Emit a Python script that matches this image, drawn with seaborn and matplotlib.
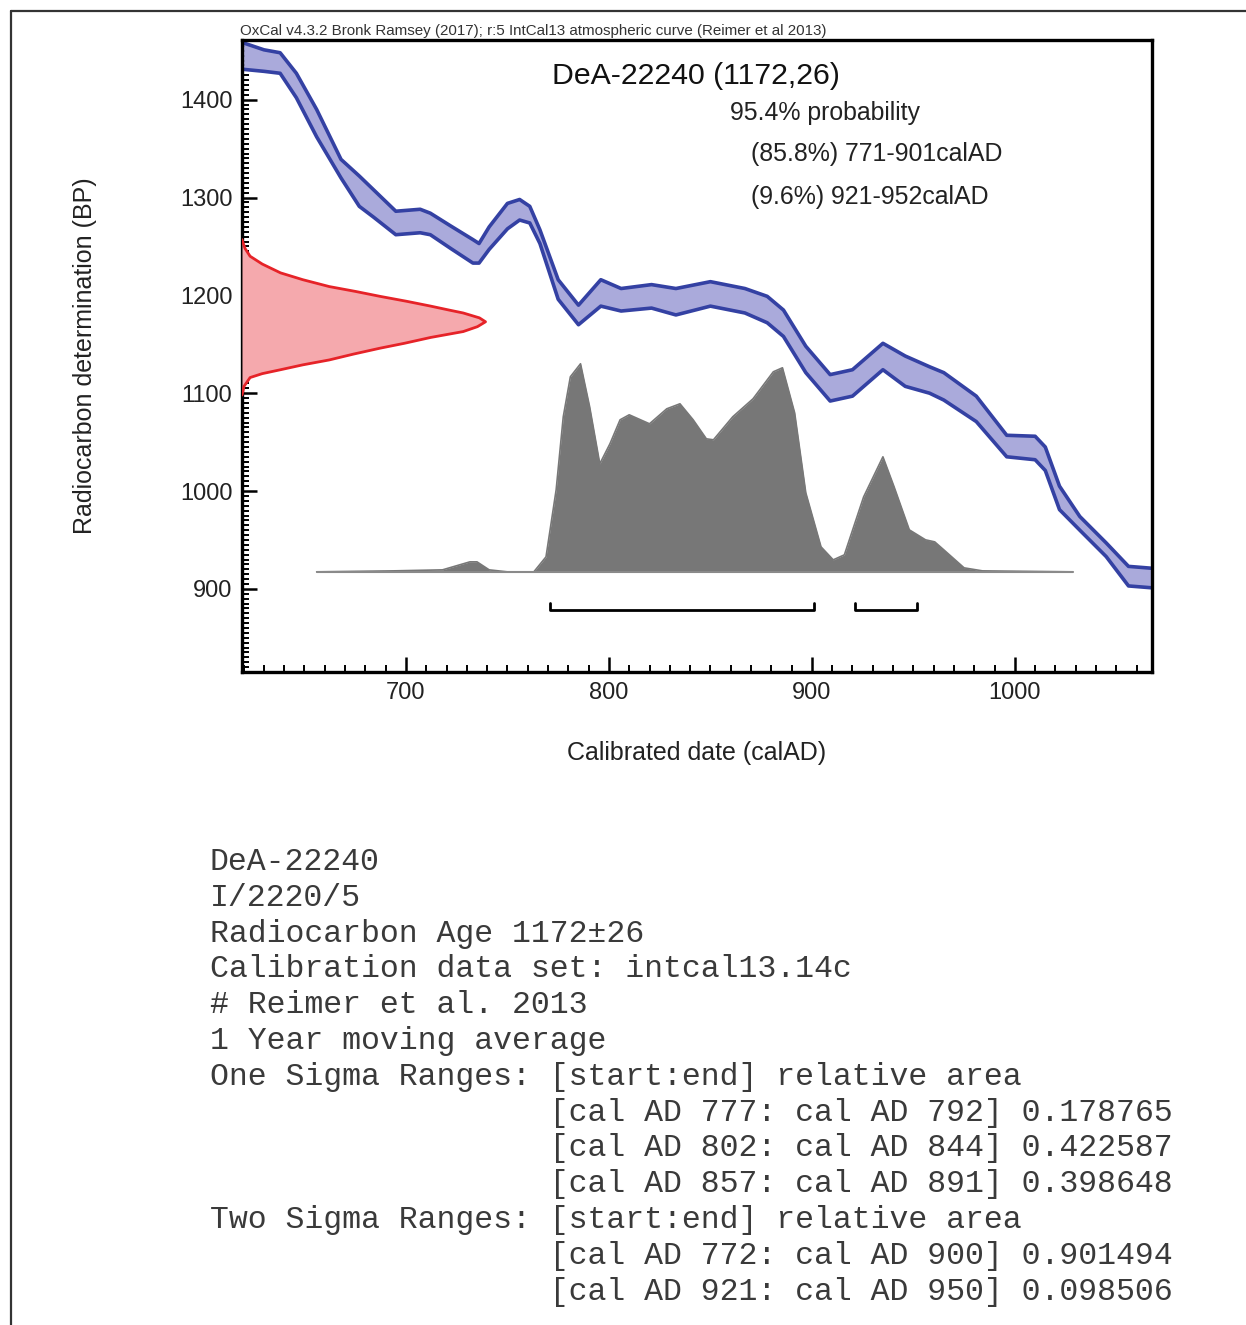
import numpy as np
import pandas as pd
import matplotlib
matplotlib.use('Agg')
import matplotlib.pyplot as plt
from matplotlib.lines import Line2D
from matplotlib.ticker import MultipleLocator
import seaborn as sns

# IntCal13 curve band (calAD, BP)
cal_year = [620, 630, 638, 646, 656, 668, 677, 684, 695, 707, 712, 722, 733, 736, 741,
            750, 756, 761, 766, 775, 785, 796, 806, 821, 833, 850, 867, 878, 886, 897,
            909, 920, 935, 946, 958, 965, 981, 996, 1010, 1015, 1022, 1032, 1045, 1056, 1068]
cal_upper = [1458, 1451, 1448, 1427, 1390, 1339, 1322, 1308, 1286, 1288, 1284, 1271, 1257, 1253, 1270,
             1294, 1298, 1291, 1267, 1216, 1190, 1216, 1207, 1211, 1207, 1214, 1207, 1199, 1185, 1148,
             1119, 1124, 1151, 1138, 1127, 1121, 1097, 1057, 1056, 1045, 1005, 974, 947, 923, 921]
cal_lower = [1431, 1429, 1427, 1402, 1362, 1320, 1291, 1280, 1262, 1264, 1262, 1248, 1233, 1233, 1247,
             1268, 1277, 1274, 1253, 1196, 1170, 1189, 1184, 1187, 1180, 1189, 1182, 1172, 1158, 1121,
             1092, 1097, 1124, 1107, 1100, 1093, 1071, 1035, 1032, 1021, 981, 960, 933, 903, 901]

# radiocarbon date 1172 +/- 26, width of the red curve in years from the left axis
red_bp = [1257, 1248, 1240, 1232, 1223, 1216, 1209, 1204, 1199, 1194, 1189, 1185, 1182, 1177, 1173,
          1168, 1163, 1160, 1157, 1151, 1146, 1140, 1134, 1129, 1124, 1120, 1116, 1107, 1098]
red_w = [0, 1.5, 4, 10, 19, 30, 43, 56, 68, 81, 93, 102, 109, 117, 120,
         116, 109, 101, 93, 80, 68, 55, 43, 30, 19, 10, 4, 1, 0]

# calibrated probability (relative height)
prob_year = [656, 694, 718, 731.5, 735, 741, 750, 763, 769, 774, 777.5, 781, 786, 790.5, 795.5,
             800.5, 805.5, 810, 820, 828.5, 835, 841.5, 848, 851.5, 861, 871, 881, 885.5, 891.5, 897,
             904.5, 910.5, 916, 925.5, 935, 940.5, 948, 956, 960.5, 965, 975, 984, 1028.5]
prob_h = [0, 1, 2, 10, 10, 2, 0, 0, 15, 82, 155, 195, 208, 165, 108,
          128, 152, 157, 148, 163, 168, 152, 133, 132, 155, 173, 200, 204, 159, 79,
          25, 12, 17, 75, 115, 85, 42, 32, 30, 22, 4, 1, 0]

ranges_95 = [(771, 901), (921, 952)]

sample_title = 'DeA-22240 (1172,26)'
prob_lines = ['95.4% probability', '(85.8%) 771-901calAD', '(9.6%) 921-952calAD']
header = 'OxCal v4.3.2 Bronk Ramsey (2017); r:5 IntCal13 atmospheric curve (Reimer et al 2013)'

report = [
    'DeA-22240',
    'I/2220/5',
    'Radiocarbon Age 1172±26',
    'Calibration data set: intcal13.14c',
    '# Reimer et al. 2013',
    '1 Year moving average',
    'One Sigma Ranges: [start:end] relative area',
    '                  [cal AD 777: cal AD 792] 0.178765',
    '                  [cal AD 802: cal AD 844] 0.422587',
    '                  [cal AD 857: cal AD 891] 0.398648',
    'Two Sigma Ranges: [start:end] relative area',
    '                  [cal AD 772: cal AD 900] 0.901494',
    '                  [cal AD 921: cal AD 950] 0.098506',
]

sns.set_theme(style='white')
plt.rcParams['font.family'] = ['Liberation Sans', 'DejaVu Sans']

cal = pd.DataFrame({'year': cal_year, 'upper': cal_upper, 'lower': cal_lower})
red = pd.DataFrame({'bp': red_bp, 'w': red_w})
prob = pd.DataFrame({'year': prob_year, 'h': prob_h})

x0, x1 = 619.2, 1067.6
y0, y1 = 815, 1461
base = 917.4
prob_scale = 1 / 0.978  # picture px -> BP

fig = plt.figure(figsize=(12.46, 13.25), dpi=100)
ax = fig.add_axes([0.1942, 0.4928, 0.7304, 0.477])

band_fill = '#aaaadb'
band_line = '#3441a3'
ax.fill_between(cal['year'], cal['lower'], cal['upper'], color=band_fill, lw=0, zorder=1)
for col in ['upper', 'lower']:
    sns.lineplot(data=cal, x='year', y=col, ax=ax, color=band_line, lw=2.6, zorder=2,
                 solid_joinstyle='round', solid_capstyle='round')

red['x'] = x0 + red['w']
ax.fill_betweenx(red['bp'], x0, red['x'], color='#f5a9ad', lw=0, zorder=3)
sns.lineplot(data=red, x='x', y='bp', ax=ax, sort=False, orient='y', color='#e62328', lw=2,
             zorder=4, solid_joinstyle='round')

prob['y'] = base + prob['h'] * prob_scale
ax.fill_between(prob['year'], base, prob['y'], color='#777777', lw=0, zorder=3)
sns.lineplot(data=prob, x='year', y='y', ax=ax, color='#777777', lw=1.2, zorder=3)
ax.plot([prob_year[0], prob_year[-1]], [base, base], color='#8a8a8a', lw=1.5, zorder=3)

for a, b in ranges_95:
    ax.plot([a, a, b, b], [886, 878.5, 878.5, 886], color='black', lw=2, zorder=4)

ax.set_xlim(x0, x1)
ax.set_ylim(y0, y1)
ax.xaxis.set_major_locator(MultipleLocator(100))
ax.xaxis.set_minor_locator(MultipleLocator(10))
ax.yaxis.set_major_locator(MultipleLocator(100))
ax.yaxis.set_minor_locator(MultipleLocator(5))
ax.tick_params(which='both', direction='in', color='black', bottom=True, left=True,
               top=False, right=False)
ax.tick_params(which='major', length=11, width=1.8, labelsize=17, pad=7, labelcolor='#222222')
ax.tick_params(which='minor', length=5, width=1.4)
for s in ax.spines.values():
    s.set_linewidth(2.4)
    s.set_color('black')

ax.set_xlabel('Calibrated date (calAD)', fontsize=18, color='#222222')
ax.set_ylabel('Radiocarbon determination (BP)', fontsize=18, color='#222222')
ax.xaxis.set_label_coords(0.5, -0.109)
ax.yaxis.set_label_coords(-0.159, 0.5)

ax.text(0.341, 0.943, sample_title, transform=ax.transAxes, fontsize=21.8,
        ha='left', va='center', color='#111111')
ax.text(0.536, 0.885, prob_lines[0], transform=ax.transAxes, fontsize=17.9,
        ha='left', va='center', color='#222222')
ax.text(0.559, 0.820, prob_lines[1], transform=ax.transAxes, fontsize=17.9,
        ha='left', va='center', color='#222222')
ax.text(0.559, 0.752, prob_lines[2], transform=ax.transAxes, fontsize=17.9,
        ha='left', va='center', color='#222222')

fig.text(240 / 1246, 1 - 31 / 1325, header, fontsize=10.9, ha='left', va='center', color='#333333')

for i, line in enumerate(report):
    fig.text(210 / 1246, 1 - (862 + i * 35.8) / 1325, line, fontsize=22.7,
             family='Liberation Mono', ha='left', va='center', color='#3a3a3a')

# frame round the figure (left and top)
fig.add_artist(Line2D([11 / 1246, 11 / 1246], [0, 1 - 11 / 1325], transform=fig.transFigure,
                      color='#333333', lw=1.6))
fig.add_artist(Line2D([11 / 1246, 1], [1 - 11 / 1325, 1 - 11 / 1325], transform=fig.transFigure,
                      color='#333333', lw=1.6))

fig.savefig('out.png', dpi=100)
